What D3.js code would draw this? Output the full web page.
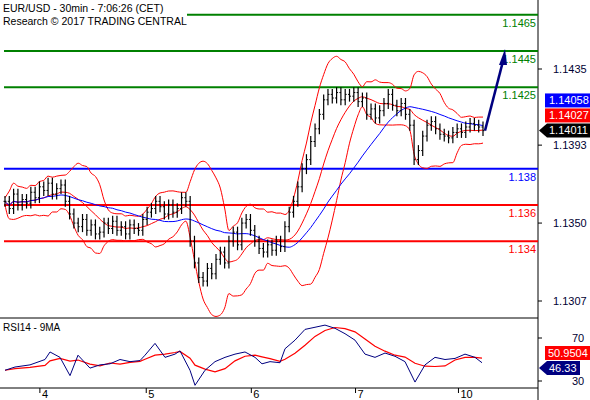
<!DOCTYPE html><html><head><meta charset="utf-8">
<script src="https://cdn.jsdelivr.net/npm/d3@7"></script>
<style>body{margin:0;background:#fff}svg{font-family:"Liberation Sans",Arial,sans-serif}</style></head><body>
<svg id="c" width="590" height="400"></svg>
<script>
const closes=[1.1362,1.1358,1.1366,1.1360,
1.1363,1.1361,1.1367,1.1364,1.1370,
1.1368,1.1372,1.1366,1.1369,1.1371,
1.1362,1.1355,1.1350,1.1348,
1.1352,1.1346,1.1349,1.1344,1.1345,
1.1350,1.1347,1.1351,1.1346,1.1348,
1.1344,1.1349,1.1347,1.1346,
1.1352,1.1356,1.1358,1.1362,1.1359,
1.1355,1.1360,1.1356,1.1358,1.1364,1.1362,
1.1340,1.1328,1.1320,
1.1318,1.1325,1.1322,1.1330,1.1334,
1.1328,1.1340,1.1345,1.1338,1.1350,1.1352,
1.1346,1.1340,1.1336,1.1334,
1.1338,1.1335,1.1340,1.1337,
1.1348,1.1356,1.1362,1.1370,
1.1380,1.1385,1.1395,1.1402,
1.1410,1.1418,1.1421,1.1419,1.1422,
1.1418,1.1421,1.1420,1.1422,1.1417,1.1419,
1.1410,1.1413,1.1408,1.1412,1.1416,
1.1421,1.1415,1.1412,1.1416,
1.1410,1.1404,1.1385,1.1390,
1.1398,1.1404,1.1406,1.1402,
1.1399,1.1398,1.1397,1.1400,1.1402,
1.1400,1.1403,1.1405,1.1404,1.1403,1.1401];
const rsiX=[5,15,30,45,50,60,70,78,90,100,110,120,130,140,145,155,165,175,180,190,195,205,215,225,235,245,255,262,270,280,285,295,305,315,325,335,345,355,365,375,385,395,405,415,425,435,445,455,465,475,482];
const rsiV=[40,43,45,50,57,52,35,54,42,45,46,50,48,49,54,65,52,55,58,40,26,40,48,52,55,57,52,46,48,47,60,68,78,80,82,79,74,68,55,52,56,53,48,29,45,52,50,51,55,52,47];
const dayLabels=["4","5","6","7","10"];
const dayIdx=[8.1,32.8,57.2,81.4,105.3];
const priceTicks=[1.1435,1.1393,1.1350,1.1307];
const levels=[{v:1.1465,c:"#008000",l:"1.1465"},{v:1.1445,c:"#008000",l:"1.1445"},{v:1.1425,c:"#008000",l:"1.1425"},{v:1.138,c:"#0000ff",l:"1.138"},{v:1.136,c:"#ff0000",l:"1.136"},{v:1.134,c:"#ff0000",l:"1.134"}];
const tags=[{v:1.14058,c:"#0000ff",l:"1.14058"},{v:1.14027,c:"#ff0000",l:"1.14027"},{v:1.14011,c:"#000000",l:"1.14011"}];

const svg=d3.select("#c");
const x=d3.scaleLinear().domain([0,closes.length-1]).range([5,483]);
const y=d3.scaleLinear().domain([1.1435,1.1307]).range([69,301]);
const yr=d3.scaleLinear().domain([70,30]).range([338,381]);
const R=538;
svg.append("line").attr("x1",R).attr("x2",R).attr("y1",0).attr("y2",400).attr("stroke","#000");
svg.append("line").attr("x1",0).attr("x2",R).attr("y1",318).attr("y2",318).attr("stroke","#000");
svg.append("line").attr("x1",0).attr("x2",R).attr("y1",388).attr("y2",388).attr("stroke","#000");
levels.forEach((d,i)=>{svg.append("line").attr("x1",i==0?187:4).attr("x2",R).attr("y1",y(d.v)).attr("y2",y(d.v)).attr("stroke",d.c).attr("stroke-width",2);
svg.append("text").attr("x",536).attr("y",y(d.v)+12).attr("text-anchor","end").attr("font-size",11).attr("fill",d.c).text(d.l);});
function sma(a,n){return a.map((_,i)=>{const s=a.slice(Math.max(0,i-n+1),i+1);return d3.mean(s);});}
function sd(a,n){return a.map((_,i)=>{const s=a.slice(Math.max(0,i-n+1),i+1);return s.length>1?d3.deviation(s):0;});}
const mid=sma(closes,10),dev=sd(closes,10),ma50=sma(closes,24);
const ln=d3.line().x((d,i)=>x(i)).y(d=>y(d)).curve(d3.curveMonotoneX);
[mid,mid.map((m,i)=>m+2*dev[i]+0.0002),mid.map((m,i)=>m-2*dev[i]-0.0002)].forEach(s=>svg.append("path").attr("d",ln(s)).attr("fill","none").attr("stroke","#ff0000").attr("stroke-width",1));
svg.append("path").attr("d",ln(ma50)).attr("fill","none").attr("stroke","#0000ff").attr("stroke-width",1);
closes.forEach((c,i)=>{const o=i?closes[i-1]:c;const hi=Math.max(o,c)+0.0003,lo=Math.min(o,c)-0.0003;const xi=x(i);
svg.append("line").attr("x1",xi).attr("x2",xi).attr("y1",y(hi)).attr("y2",y(lo)).attr("stroke","#000").attr("stroke-width",1.2);
svg.append("line").attr("x1",xi-1.5).attr("x2",xi).attr("y1",y(o)).attr("y2",y(o)).attr("stroke","#000");
svg.append("line").attr("x1",xi).attr("x2",xi+1.5).attr("y1",y(c)).attr("y2",y(c)).attr("stroke","#000");});
const ax0=x(closes.length-1)+2,ay0=y(1.1401),ax1=505,ay1=y(1.1446);
svg.append("line").attr("x1",ax0).attr("y1",ay0).attr("x2",ax1-2).attr("y2",ay1+12).attr("stroke","#000080").attr("stroke-width",2.5);
svg.append("path").attr("d",`M${ax1},${ay1} L${ax1-6},${ay1+16} L${ax1+2},${ay1+16}Z`).attr("fill","#000080");
priceTicks.forEach(t=>{svg.append("line").attr("x1",R).attr("x2",R+4).attr("y1",y(t)).attr("y2",y(t)).attr("stroke","#000");
svg.append("text").attr("x",553).attr("y",y(t)+4).attr("font-size",11).attr("fill","#000033").text(t.toFixed(4));});
// stack tags upward from the last price so they do not overlap
const baseY=y(tags[2].v);
tags.forEach((d,i)=>{const yy=baseY+(i-2)*15;const g=svg.append("g");
if(d.c=="#000000")g.append("path").attr("d",`M539,${yy} L547,${yy-7} L590,${yy-7} L590,${yy+7} L547,${yy+7}Z`).attr("fill","#000");
else g.append("rect").attr("x",545).attr("y",yy-7).attr("width",45).attr("height",14).attr("fill",d.c);
g.append("text").attr("x",549).attr("y",yy+4).attr("font-size",11).attr("fill","#fff").text(d.l);});
svg.append("text").attr("x",3).attr("y",12).attr("font-size",10.5).text("EUR/USD - 30min - 7:06:26 (CET)");
svg.append("text").attr("x",3).attr("y",25).attr("font-size",10.5).text("Research © 2017 TRADING CENTRAL");
const rl=d3.line().x((d,i)=>rsiX[i]).y(d=>yr(d));
svg.append("path").attr("d",rl(sma(rsiV,4))).attr("fill","none").attr("stroke","#ff0000").attr("stroke-width",1.2);
svg.append("path").attr("d",rl(rsiV)).attr("fill","none").attr("stroke","#000080");
svg.append("text").attr("x",3).attr("y",331).attr("font-size",10).text("RSI14 - 9MA");
[70,30].forEach(t=>{svg.append("line").attr("x1",R).attr("x2",R+4).attr("y1",yr(t)).attr("y2",yr(t)).attr("stroke","#000");
svg.append("text").attr("x",572).attr("y",yr(t)+4).attr("font-size",11).attr("fill","#000033").text(t);});
svg.append("rect").attr("x",545).attr("y",346).attr("width",45).attr("height",14).attr("fill","#ff0000");
svg.append("text").attr("x",548).attr("y",357).attr("font-size",11).attr("fill","#fff").text("50.9504");
const ty=368;
svg.append("path").attr("d",`M539,${ty} L547,${ty-7} L580,${ty-7} L580,${ty+7} L547,${ty+7}Z`).attr("fill","#000080");
svg.append("text").attr("x",549).attr("y",ty+4).attr("font-size",11).attr("fill","#fff").text("46.33");
dayIdx.forEach((d,i)=>{const xx=x(d);svg.append("line").attr("x1",xx).attr("x2",xx).attr("y1",388).attr("y2",393).attr("stroke","#000");
svg.append("text").attr("x",xx+2).attr("y",398).attr("font-size",11).text(dayLabels[i]);});
</script></body></html>
